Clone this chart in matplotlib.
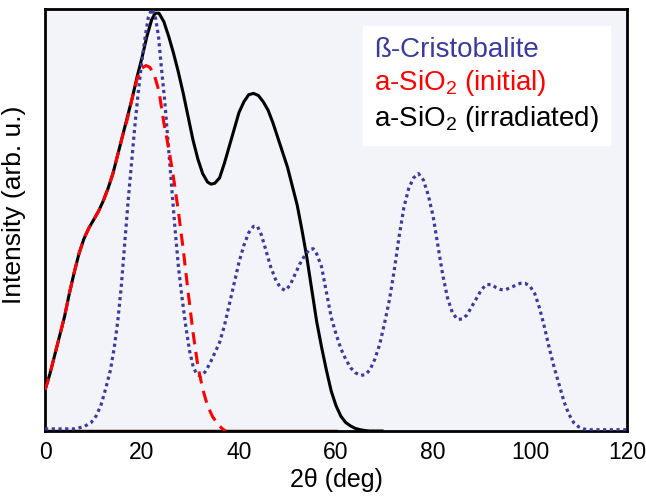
import matplotlib.pyplot as plt

plt.rcParams['font.family'] = ['Liberation Sans', 'DejaVu Sans']
plt.rcParams['mathtext.default'] = 'regular'

# irradiated a-SiO2 (black solid)
irr_x = [0, 1, 2, 3, 4, 5, 6, 7, 8, 9, 10, 11, 12, 13, 14, 15, 16, 17, 18, 19,
         20, 21, 22, 22.7, 23.5, 24.5, 25.5, 26.5, 27.5, 28.5, 29.5, 30.5, 31.5,
         32.5, 33.5, 34.2, 35, 36, 37, 38, 39, 40, 41, 42, 43, 44, 45, 46, 47,
         48, 49, 50, 51, 52, 53, 54, 55, 56, 57, 58, 59, 60, 61, 62, 63, 64,
         65, 66, 67, 69.5]
irr_y = [0.097, 0.135, 0.18, 0.225, 0.27, 0.325, 0.375, 0.42, 0.455, 0.48,
         0.50, 0.52, 0.545, 0.575, 0.61, 0.655, 0.70, 0.745, 0.79, 0.84, 0.885,
         0.935, 0.975, 0.99, 0.99, 0.97, 0.935, 0.895, 0.85, 0.80, 0.745, 0.69,
         0.645, 0.61, 0.59, 0.585, 0.587, 0.60, 0.635, 0.675, 0.715, 0.755,
         0.78, 0.797, 0.80, 0.795, 0.78, 0.76, 0.73, 0.695, 0.66, 0.625, 0.58,
         0.535, 0.475, 0.41, 0.335, 0.26, 0.20, 0.145, 0.095, 0.06, 0.035, 0.02,
         0.012, 0.006, 0.003, 0.001, 0.0, 0.0]

# initial a-SiO2 (red dashed)
ini_x = [0, 1, 2, 3, 4, 5, 6, 7, 8, 9, 10, 11, 12, 13, 14, 15, 16, 17, 18, 19,
         20, 20.8, 21.6, 22.5, 23.5, 24.5, 25.5, 26.5, 27.5, 28.5, 29.5, 30.5,
         31.5, 32.5, 33.5, 34.5, 35.5, 36.5, 37.2]
ini_y = [0.097, 0.135, 0.18, 0.225, 0.27, 0.325, 0.375, 0.42, 0.455, 0.48,
         0.50, 0.52, 0.545, 0.575, 0.61, 0.655, 0.70, 0.74, 0.79, 0.835, 0.86,
         0.866, 0.862, 0.845, 0.805, 0.73, 0.67, 0.60, 0.52, 0.43, 0.33, 0.235,
         0.155, 0.10, 0.06, 0.035, 0.018, 0.006, 0.0]

# beta-cristobalite (blue dotted)
cri_x = [0, 6, 8, 9.5, 10.5, 11.5, 12.5, 13.5, 14.3, 15, 15.7, 16.4, 17.1,
         17.8, 18.5, 19.2, 19.9, 20.6, 21.3, 22, 22.7, 23.4, 24, 24.7, 25.4,
         26.1, 26.8, 27.5, 28.2, 29, 29.8, 30.6, 31.3, 32, 33, 34, 35, 36, 37,
         38, 39, 40, 41, 42, 43, 43.8, 44.6, 45.5, 46.5, 47.5, 48.5, 49.5,
         50.5, 51.5, 52.5, 53.5, 54.5, 55.3, 56, 57, 58, 59, 60, 61, 62, 63,
         64, 65, 66, 67, 68, 69, 70, 71, 72, 73, 74, 75, 76, 77, 78, 79, 80,
         81, 82, 83, 84, 85, 86, 87, 88, 89, 90, 91, 92, 93, 94, 95, 96, 97,
         98, 99, 100, 101, 102, 103, 104, 105, 106, 107, 108, 109, 110, 111,
         112, 120]
cri_y = [0.005, 0.005, 0.01, 0.02, 0.035, 0.06, 0.10, 0.145, 0.20, 0.26, 0.34,
         0.44, 0.54, 0.63, 0.72, 0.80, 0.87, 0.93, 0.98, 1.0, 0.985, 0.935,
         0.86, 0.78, 0.68, 0.58, 0.48, 0.39, 0.32, 0.25, 0.19, 0.15, 0.135,
         0.13, 0.14, 0.16, 0.185, 0.21, 0.25, 0.30, 0.35, 0.40, 0.44, 0.47,
         0.485, 0.485, 0.465, 0.43, 0.39, 0.36, 0.34, 0.333, 0.345, 0.37,
         0.395, 0.415, 0.43, 0.432, 0.42, 0.39, 0.33, 0.27, 0.23, 0.195, 0.17,
         0.15, 0.138, 0.132, 0.133, 0.145, 0.17, 0.205, 0.255, 0.31, 0.38,
         0.46, 0.53, 0.575, 0.60, 0.61, 0.595, 0.56, 0.51, 0.44, 0.37, 0.315,
         0.28, 0.265, 0.265, 0.275, 0.295, 0.315, 0.335, 0.347, 0.347, 0.34,
         0.335, 0.335, 0.34, 0.345, 0.35, 0.35, 0.343, 0.325, 0.29, 0.245,
         0.195, 0.15, 0.11, 0.07, 0.04, 0.02, 0.01, 0.005, 0.003, 0.003]

labels = ['ß-Cristobalite', 'a-SiO$_2$ (initial)', 'a-SiO$_2$ (irradiated)']
label_colors = ['#3b3b9c', '#ff0000', '#000000']
xticks = [0, 20, 40, 60, 80, 100, 120]

fig = plt.figure(figsize=(6.46, 5.0), dpi=100)
ax = fig.add_axes([0.0697, 0.138, 0.9009, 0.844])
ax.set_facecolor('#f3f4f9')

ax.plot([0, 60], [0, 0], color='#5a0000', lw=2.5, zorder=2)
ax.plot(irr_x, irr_y, color='black', lw=2.2, zorder=3)
ax.plot(cri_x, cri_y, color='#3b3b9c', lw=2.3, ls=(0, (1, 1.1)), zorder=4)
ax.plot(ini_x, ini_y, color='#ff0000', lw=2.2, ls=(0, (4, 2.5)), zorder=5)

ax.set_xlim(0, 120)
ax.set_ylim(0, 1.0)
ax.set_xticks(xticks)
ax.set_yticks([])
ax.tick_params(axis='x', length=0, labelsize=16.5, pad=7)
for s in ax.spines.values():
    s.set_linewidth(2)

ax.set_xlabel('2θ (deg)', fontsize=18, labelpad=3)
ax.set_ylabel('Intensity (arb. u.)', fontsize=19)
ax.yaxis.set_label_coords(-0.033, 0.535)

handles = [plt.Line2D([], [], color='none') for _ in labels]
leg = ax.legend(handles, labels, loc='upper right', handlelength=0,
                handletextpad=0, labelcolor=label_colors, fontsize=20,
                frameon=True, fancybox=False, framealpha=1,
                edgecolor='white', borderaxespad=0.6, borderpad=0.4,
                labelspacing=0.2)

fig.savefig('out.png', dpi=100)
